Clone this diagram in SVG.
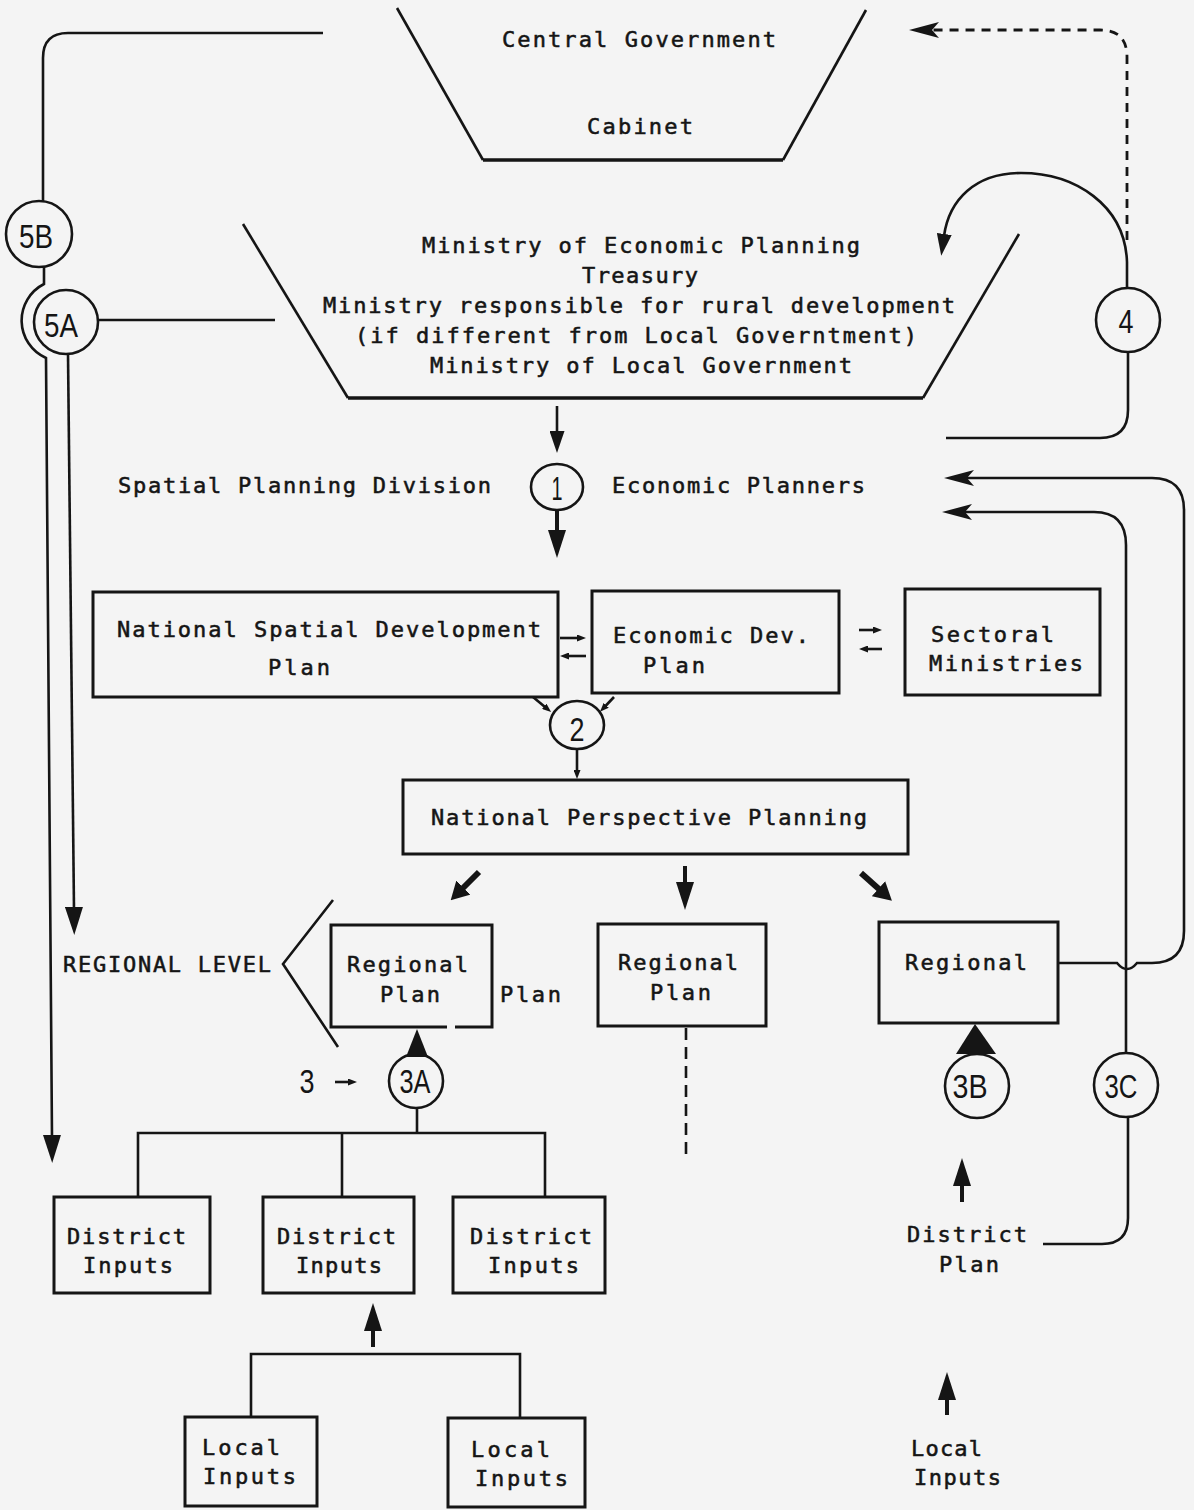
<svg xmlns="http://www.w3.org/2000/svg" width="1194" height="1510" viewBox="0 0 1194 1510">
  <style>
    .t { font-family: "DejaVu Sans Mono", "Liberation Mono", monospace; font-size: 22px; fill: #151515; stroke: #151515; stroke-width: 0.55px; }
    .n { font-family: "Liberation Sans Narrow", "Liberation Sans", "DejaVu Sans", sans-serif; font-size: 34px; fill: #151515; text-anchor: middle; }
    .box { fill: none; stroke: #151515; stroke-width: 3; }
    .ln { fill: none; stroke: #151515; stroke-width: 2.6; }
    .base { fill: none; stroke: #151515; stroke-width: 3.6; }
    .thick { fill: none; stroke: #151515; stroke-width: 4; }
    .fat { fill: none; stroke: #151515; stroke-width: 6; }
    .dash { fill: none; stroke: #151515; stroke-width: 2.8; stroke-dasharray: 9 7; }
    .dash2 { fill: none; stroke: #151515; stroke-width: 2.6; stroke-dasharray: 12 7; }
    .circ { fill: none; stroke: #151515; stroke-width: 2.6; }
    .solid { fill: #151515; stroke: none; }
  </style>
  <defs>
    <marker id="head-lg" markerUnits="userSpaceOnUse" markerWidth="28" markerHeight="18" refX="2" refY="9" orient="auto">
      <path d="M0,0 L28,9 L0,18 z" fill="#151515"/>
    </marker>
    <marker id="head-md" markerUnits="userSpaceOnUse" markerWidth="22" markerHeight="15" refX="2" refY="7.5" orient="auto">
      <path d="M0,0 L22,7.5 L0,15 z" fill="#151515"/>
    </marker>
    <marker id="head-harp" markerUnits="userSpaceOnUse" markerWidth="30" markerHeight="16" refX="8" refY="8" orient="auto">
      <path d="M0,0 L30,8 L0,16 L7,8 z" fill="#151515"/>
    </marker>
    <marker id="head-sm" markerUnits="userSpaceOnUse" markerWidth="9" markerHeight="7" refX="1" refY="3.5" orient="auto">
      <path d="M0,0 L9,3.5 L0,7 z" fill="#151515"/>
    </marker>
    <marker id="head-thick" markerUnits="userSpaceOnUse" markerWidth="18" markerHeight="20" refX="2" refY="10" orient="auto">
      <path d="M0,0 L18,10 L0,20 z" fill="#151515"/>
    </marker>
  </defs>

  <rect x="0" y="0" width="1194" height="1510" fill="#f4f4f4"/>

  <!-- top level: cabinet -->
  <g id="central-government">
    <path class="ln" d="M397,8 L483,160"/>
    <path class="ln" d="M783,160 L866,10"/>
    <path class="base" d="M483,160 H783"/>
    <text class="t" x="502" y="47" textLength="274">Central Government</text>
    <text class="t" x="587" y="134" textLength="106">Cabinet</text>
  </g>

  <!-- ministries tier -->
  <g id="ministries">
    <path class="ln" d="M243,224 L348,398"/>
    <path class="ln" d="M923,398 L1019,234"/>
    <path class="base" d="M348,398 H923"/>
    <text class="t" x="422" y="253" textLength="438">Ministry of Economic Planning</text>
    <text class="t" x="582" y="283" textLength="116">Treasury</text>
    <text class="t" x="323" y="313" textLength="632">Ministry responsible for rural development</text>
    <text class="t" x="355" y="343" textLength="562">(if different from Local Governtment)</text>
    <text class="t" x="430" y="373" textLength="422">Ministry of Local Government</text>
  </g>

  <g id="spatial-planning-division">
    <text class="t" x="118" y="493" textLength="373">Spatial Planning Division</text>
  </g>
  <g id="economic-planners">
    <text class="t" x="612" y="493" textLength="253">Economic Planners</text>
  </g>

  <g id="national-spatial-plan">
    <rect class="box" x="93" y="592" width="465" height="105"/>
    <text class="t" x="117" y="637" textLength="424">National Spatial Development</text>
    <text class="t" x="268" y="675" textLength="62">Plan</text>
  </g>
  <g id="economic-dev-plan">
    <rect class="box" x="592" y="591" width="247" height="102"/>
    <text class="t" x="613" y="643" textLength="196">Economic Dev.</text>
    <text class="t" x="643" y="673" textLength="62">Plan</text>
  </g>
  <g id="sectoral-ministries">
    <rect class="box" x="905" y="589" width="195" height="106"/>
    <text class="t" x="931" y="642" textLength="123">Sectoral</text>
    <text class="t" x="929" y="671" textLength="154">Ministries</text>
  </g>
  <g id="national-perspective-planning">
    <rect class="box" x="403" y="780" width="505" height="74"/>
    <text class="t" x="431" y="825" textLength="436">National Perspective Planning</text>
  </g>

  <g id="regional-level">
    <text class="t" x="63" y="972" textLength="208">REGIONAL LEVEL</text>
    <path class="ln" d="M333,900 L283,964 L338,1047"/>
  </g>
  <g id="regional-plan-a">
    <path class="box" d="M447,1027 H331 V925 H492 V1027 H455"/>
    <text class="t" x="347" y="972" textLength="121">Regional</text>
    <text class="t" x="380" y="1002" textLength="60">Plan</text>
    <text class="t" x="500" y="1002" textLength="61">Plan</text>
  </g>
  <g id="regional-plan-b">
    <rect class="box" x="598" y="924" width="168" height="102"/>
    <text class="t" x="618" y="970" textLength="120">Regional</text>
    <text class="t" x="650" y="1000" textLength="61">Plan</text>
  </g>
  <g id="regional-c">
    <rect class="box" x="879" y="922" width="179" height="101"/>
    <text class="t" x="905" y="970" textLength="122">Regional</text>
  </g>

  <g id="district-inputs-1">
    <rect class="box" x="54" y="1197" width="156" height="96"/>
    <text class="t" x="67" y="1244" textLength="119">District</text>
    <text class="t" x="83" y="1273" textLength="90">Inputs</text>
  </g>
  <g id="district-inputs-2">
    <rect class="box" x="263" y="1197" width="151" height="96"/>
    <text class="t" x="277" y="1244" textLength="119">District</text>
    <text class="t" x="296" y="1273" textLength="86">Inputs</text>
  </g>
  <g id="district-inputs-3">
    <rect class="box" x="453" y="1197" width="152" height="96"/>
    <text class="t" x="470" y="1244" textLength="122">District</text>
    <text class="t" x="488" y="1273" textLength="91">Inputs</text>
  </g>
  <g id="local-inputs-1">
    <rect class="box" x="185" y="1417" width="132" height="89"/>
    <text class="t" x="202" y="1455" textLength="78">Local</text>
    <text class="t" x="203" y="1484" textLength="93">Inputs</text>
  </g>
  <g id="local-inputs-2">
    <rect class="box" x="448" y="1418" width="137" height="89"/>
    <text class="t" x="471" y="1457" textLength="79">Local</text>
    <text class="t" x="475" y="1486" textLength="93">Inputs</text>
  </g>
  <g id="district-plan">
    <text class="t" x="907" y="1242" textLength="120">District</text>
    <text class="t" x="939" y="1272" textLength="60">Plan</text>
  </g>
  <g id="local-inputs-3">
    <text class="t" x="911" y="1456" textLength="71">Local</text>
    <text class="t" x="914" y="1485" textLength="87">Inputs</text>
  </g>

  <!-- numbered stages -->
  <g id="stage-5b">
    <circle class="circ" cx="39" cy="234" r="33"/>
    <text class="n" x="36" y="248" textLength="34" lengthAdjust="spacingAndGlyphs">5B</text>
  </g>
  <g id="stage-5a">
    <circle class="circ" cx="66" cy="322" r="32"/>
    <text class="n" x="61" y="337" textLength="34" lengthAdjust="spacingAndGlyphs">5A</text>
  </g>
  <g id="stage-1">
    <ellipse class="circ" cx="557" cy="487" rx="26" ry="23"/>
    <text class="n" x="557" y="500" textLength="11" lengthAdjust="spacingAndGlyphs">1</text>
  </g>
  <g id="stage-2">
    <ellipse class="circ" cx="577" cy="725" rx="27" ry="24"/>
    <text class="n" x="577" y="741" textLength="15" lengthAdjust="spacingAndGlyphs">2</text>
  </g>
  <g id="stage-3">
    <text class="n" x="307" y="1093" textLength="15" lengthAdjust="spacingAndGlyphs">3</text>
  </g>
  <g id="stage-3a">
    <circle class="circ" cx="416" cy="1081" r="27"/>
    <text class="n" x="415" y="1093" textLength="31" lengthAdjust="spacingAndGlyphs">3A</text>
  </g>
  <g id="stage-3b">
    <circle class="circ" cx="977" cy="1086" r="32"/>
    <text class="n" x="970" y="1098" textLength="35" lengthAdjust="spacingAndGlyphs">3B</text>
  </g>
  <g id="stage-3c">
    <circle class="circ" cx="1126" cy="1085" r="32"/>
    <text class="n" x="1121" y="1098" textLength="33" lengthAdjust="spacingAndGlyphs">3C</text>
  </g>
  <g id="stage-4">
    <circle class="circ" cx="1128" cy="320" r="32"/>
    <text class="n" x="1126" y="333" font-size="28" textLength="15" lengthAdjust="spacingAndGlyphs">4</text>
  </g>

  <g id="connectors">
    <!-- 5B: up to cabinet, down past 5A to district level -->
    <path class="ln" d="M43,201 V58 Q43,33 68,33 H323"/>
    <path class="ln" d="M44,267 V284 A41,41 0 0 0 46,358 L52,1137" marker-end="url(#head-lg)"/>
    <!-- 5A: to ministries, down to regional level -->
    <path class="ln" d="M98,320 H275"/>
    <path class="ln" d="M68,354 L74,909" marker-end="url(#head-lg)"/>

    <!-- ministries to stage 1 to national plans -->
    <path class="ln" d="M557,406 V433" marker-end="url(#head-md)"/>
    <path class="thick" d="M557,510 V532" marker-end="url(#head-lg)"/>

    <!-- exchanges between national plans -->
    <path class="ln" d="M560,638 H578" marker-end="url(#head-sm)"/>
    <path class="ln" d="M586,656 H568" marker-end="url(#head-sm)"/>
    <path class="ln" d="M859,630 H874" marker-end="url(#head-sm)"/>
    <path class="ln" d="M882,649 H867" marker-end="url(#head-sm)"/>

    <!-- into stage 2 and on to perspective planning -->
    <path class="ln" d="M533,697 L545,707" marker-end="url(#head-sm)"/>
    <path class="ln" d="M614,697 L605.5,706" marker-end="url(#head-sm)"/>
    <path class="ln" d="M577,749 V771" marker-end="url(#head-sm)"/>

    <!-- perspective planning down to regions -->
    <path class="fat" d="M479,872 L462,889" marker-end="url(#head-thick)"/>
    <path class="thick" d="M685,866 V884" marker-end="url(#head-lg)"/>
    <path class="fat" d="M861,873 L880,890" marker-end="url(#head-thick)"/>

    <!-- stage 4: feedback to ministries and cabinet -->
    <path class="dash" d="M1127,240 V57 Q1127,30 1100,30 H931" marker-end="url(#head-harp)"/>
    <path class="ln" d="M1127,288 V262 C1125,205 1075,173 1021,173 C975,173 949,200 944,236" marker-end="url(#head-md)"/>
    <path class="ln" d="M1128,352 V410 Q1128,438 1100,438 H946"/>

    <!-- regional and district feedback to economic planners -->
    <path class="ln" d="M1059,963 H1117 Q1127,975 1137,963 H1152 Q1184,963 1184,931 V510 Q1184,478 1152,478 H966" marker-end="url(#head-harp)"/>
    <path class="ln" d="M1126,1053 V545 Q1126,512 1094,512 H964" marker-end="url(#head-harp)"/>
    <path class="ln" d="M1128,1117 V1218 Q1128,1244 1102,1244 H1043"/>

    <!-- regional plan B continues down -->
    <path class="dash2" d="M686,1028 V1157"/>

    <!-- stage 3 into regional plans -->
    <path class="ln" d="M335,1082 H349" marker-end="url(#head-sm)"/>
    <polygon class="solid" points="417,1029 406,1057 428,1057"/>
    <polygon class="solid" points="975,1024 956,1054 996,1054"/>
    <path class="ln" d="M417,1108 V1133"/>
    <path class="ln" d="M138,1197 V1133 H545 V1197"/>
    <path class="ln" d="M342,1133 V1197"/>

    <!-- local inputs up to districts -->
    <path class="thick" d="M373,1347 V1329" marker-end="url(#head-lg)"/>
    <path class="ln" d="M251,1417 V1354 H520 V1419"/>
    <path class="thick" d="M962,1202 V1184" marker-end="url(#head-lg)"/>
    <path class="thick" d="M947,1415 V1398" marker-end="url(#head-lg)"/>
  </g>
</svg>
